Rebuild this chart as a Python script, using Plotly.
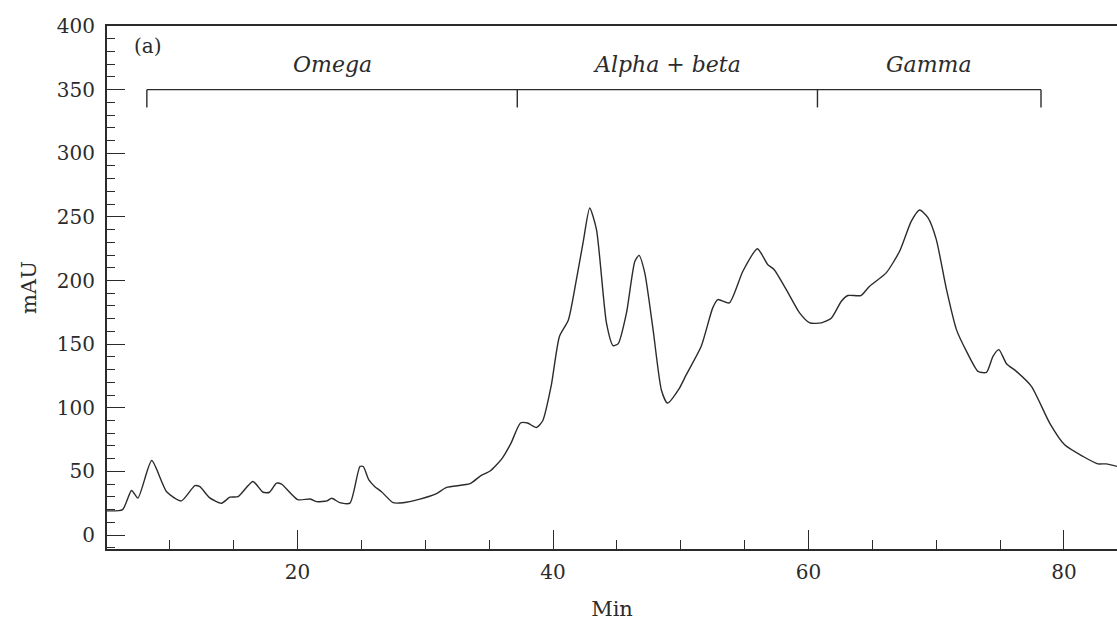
import plotly.graph_objects as go

# Chromatogram trace (minutes vs mAU)
time_min = [5.0, 6.3, 7.0, 7.5, 8.58, 9.75, 10.9, 11.96, 12.35, 13.1,
            14.05, 14.7, 15.35, 16.5, 17.3, 17.8, 18.35, 18.75, 20.0, 21.0,
            21.5, 22.3, 22.67, 23.3, 24.1, 24.88, 25.14, 25.58, 26.05, 26.57,
            27.48, 28.26, 29.5, 30.88, 31.66, 33.5, 34.3, 35.1, 36.0, 36.7,
            37.45, 38.0, 38.7, 39.2, 39.85, 40.5, 41.2, 41.83, 42.35, 42.87,
            43.4, 44.18, 44.7, 45.1, 45.75, 46.4, 46.73, 47.18, 47.83, 48.48,
            48.95, 49.9, 50.43, 51.6, 52.5, 52.9, 53.8, 54.86, 56.0, 56.8,
            57.3, 58.26, 59.3, 60.1, 61.0, 61.8, 62.57, 63.08, 64.1, 64.78,
            66.08, 67.13, 68.05, 68.7, 69.35, 70.0, 70.8, 71.58, 72.37, 73.27,
            73.93, 74.44, 74.9, 75.5, 76.27, 77.45, 78.88, 80.05, 81.5, 82.65,
            83.3, 84.2]
mau = [19, 20, 35, 29, 58.5, 34, 26.8, 38.8, 38, 29.4,
       25, 29.7, 30.2, 42, 33.6, 33.6, 40.7, 39.9, 27.8, 28.3,
       26.2, 26.8, 28.9, 25.4, 25, 53.8, 53.8, 43.3, 38, 34,
       25.4, 25.4, 28, 32.5, 37.4, 40.3, 46.3, 50.5, 60, 72,
       88, 88, 84.5, 90, 117, 156, 169, 200.8, 229.7, 257,
       240, 166.7, 148.8, 150.4, 174.6, 215, 219.7, 206, 161.4, 114,
       103.7, 115.5, 126, 148.3, 178.5, 185, 182.4, 207.3, 225, 212.6,
       208.7, 192.9, 174.6, 166.7, 166.7, 170.6, 183.7, 188.2, 188.2, 195.5,
       206, 223, 246.7, 255.4, 249.4, 232.3, 193, 161.4, 144.3, 128.6,
       127.8, 140.4, 145.7, 134.6, 128.6, 116.8, 88, 70.9, 61.7, 55.9,
       55.9, 53.8]

# Fraction regions (bracket boundaries in minutes) and labels
region_bounds = [8.2, 37.2, 60.7, 78.2]
region_labels = ["Omega", "Alpha + beta", "Gamma"]
bracket_level = 350
bracket_drop = 336
label_level = 370

FONT = "DejaVu Serif"
INK = "#2b2b2b"

fig = go.Figure()
fig.add_trace(go.Scatter(
    x=time_min, y=mau, mode="lines",
    line=dict(color=INK, width=1.4, shape="spline", smoothing=0.6),
    showlegend=False, hoverinfo="skip"))

# Bracket shapes
fig.add_shape(type="line", xref="x", yref="y",
              x0=region_bounds[0], x1=region_bounds[-1],
              y0=bracket_level, y1=bracket_level,
              line=dict(color=INK, width=1.4))
for b in region_bounds:
    fig.add_shape(type="line", xref="x", yref="y",
                  x0=b, x1=b, y0=bracket_level, y1=bracket_drop,
                  line=dict(color=INK, width=1.4))

for i, lab in enumerate(region_labels):
    fig.add_annotation(x=(region_bounds[i] + region_bounds[i + 1]) / 2,
                       y=label_level, text=f"<i>{lab}</i>", showarrow=False,
                       font=dict(family=FONT, size=22, color=INK),
                       xanchor="center", yanchor="middle")

fig.add_annotation(x=8.3, y=384, text="(a)", showarrow=False,
                   font=dict(family=FONT, size=20, color=INK),
                   xanchor="center", yanchor="middle")

fig.update_layout(
    width=1117, height=626,
    margin=dict(l=107, r=0, t=26, b=77),
    paper_bgcolor="white", plot_bgcolor="white",
    font=dict(family=FONT, size=20, color=INK),
    xaxis=dict(range=[5.08, 84.15], dtick=20, tick0=0, automargin=False,
               ticks="inside", ticklen=19, tickwidth=1.4, tickcolor=INK,
               ticklabelstandoff=4,
               showline=True, linecolor=INK, linewidth=2, mirror=True,
               showgrid=False, zeroline=False,
               minor=dict(dtick=5, tick0=0, ticks="inside", ticklen=9,
                          tickwidth=1.4, tickcolor=INK, showgrid=False),
               title=dict(text="Min", font=dict(family=FONT, size=21, color=INK),
                          standoff=18),
               tickfont=dict(family=FONT, size=20, color=INK)),
    yaxis=dict(range=[-11, 400], dtick=50, tick0=0, automargin=False,
               ticks="inside", ticklen=18, tickwidth=1.4, tickcolor=INK,
               ticklabelstandoff=6,
               showline=True, linecolor=INK, linewidth=2,
               showgrid=False, zeroline=False,
               minor=dict(dtick=10, tick0=0, ticks="inside", ticklen=8,
                          tickwidth=1.4, tickcolor=INK, showgrid=False),
               title=dict(text="mAU", font=dict(family=FONT, size=21, color=INK),
                          standoff=14),
               tickfont=dict(family=FONT, size=20, color=INK)),
)

fig.write_html("out.html",
               config={"displayModeBar": False},
               post_script="document.body.style.margin='0';"
                           "document.body.style.overflow='hidden';")
